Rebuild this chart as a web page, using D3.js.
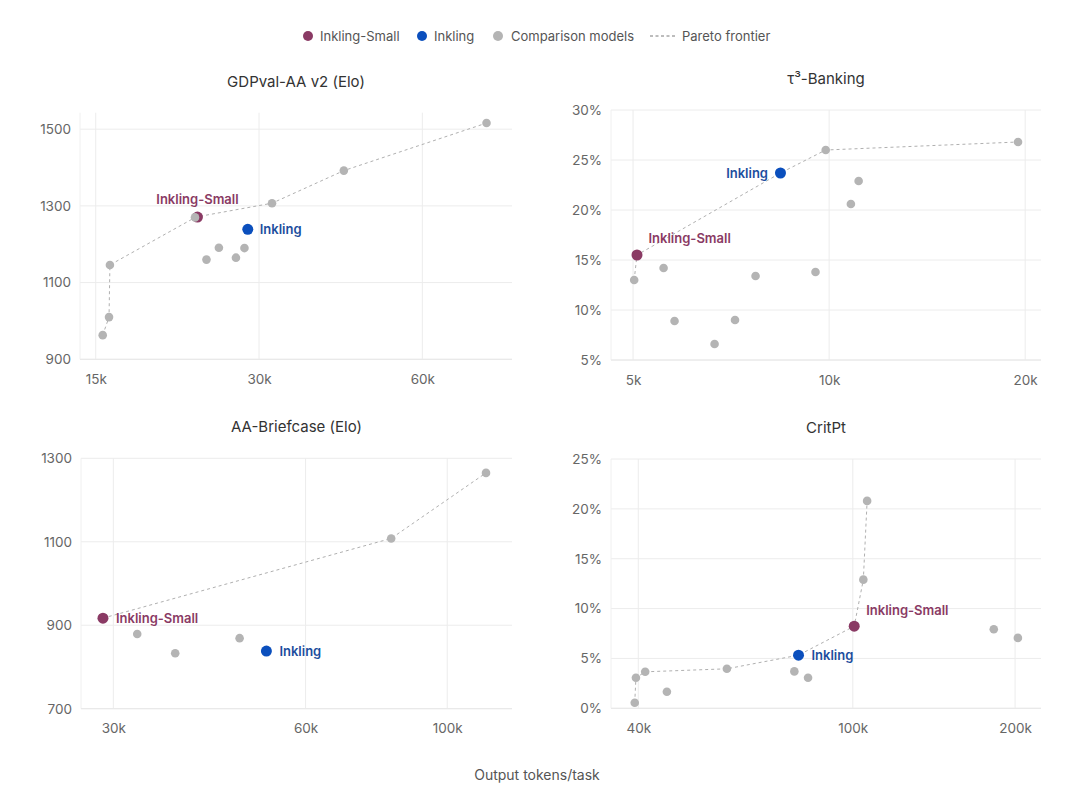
<!DOCTYPE html>
<html>
<head>
<meta charset="utf-8">
<script src="https://cdn.jsdelivr.net/npm/d3@7/dist/d3.min.js"></script>
<style>
  html, body { margin: 0; padding: 0; background: #fff; }
  svg { display: block; font-family: "Inter", "Liberation Sans", sans-serif; }
</style>
</head>
<body>
<svg id="chart" width="1080" height="789"></svg>
<script>
// ---------------- DATA ----------------
const legendLabels = ["Inkling-Small", "Inkling", "Comparison models", "Pareto frontier"];
const xAxisTitle = "Output tokens/task";

// Panel 1: GDPval-AA v2 (Elo)
const gdpTitle = "GDPval-AA v2 (Elo)";
const gdpXTicks = [15000, 30000, 60000];
const gdpXTickLabels = ["15k", "30k", "60k"];
const gdpYTicks = [900, 1100, 1300, 1500];
const gdpYTickLabels = ["900", "1100", "1300", "1500"];
const gdpCompX = [15450, 15870, 15930, 22860, 24000, 25300, 27200, 28200, 31700, 43000, 78800];
const gdpCompY = [963, 1010, 1146, 1270, 1160, 1191, 1165, 1190, 1307, 1392, 1516];
const gdpSmall = [23100, 1271];
const gdpInkling = [28600, 1239];
const gdpFrontierX = [15450, 15870, 15930, 22950, 31700, 43000, 78800];
const gdpFrontierY = [963, 1010, 1146, 1271, 1307, 1392, 1516];

// Panel 2: τ³-Banking
const bankTitle = "τ³-Banking";
const bankXTicks = [5000, 10000, 20000];
const bankXTickLabels = ["5k", "10k", "20k"];
const bankYTicks = [5, 10, 15, 20, 25, 30];
const bankYTickLabels = ["5%", "10%", "15%", "20%", "25%", "30%"];
const bankCompX = [5020, 5570, 5790, 6670, 7170, 7710, 9530, 9880, 10800, 11100, 19500];
const bankCompY = [13.0, 14.2, 8.9, 6.6, 9.0, 13.4, 13.8, 26.0, 20.6, 22.9, 26.8];
const bankSmall = [5070, 15.5];
const bankInkling = [8420, 23.7];
const bankFrontierX = [5020, 5070, 8420, 9880, 19500];
const bankFrontierY = [13.0, 15.5, 23.7, 26.0, 26.8];

// Panel 3: AA-Briefcase (Elo)
const briefTitle = "AA-Briefcase (Elo)";
const briefXTicks = [30000, 60000, 100000];
const briefXTickLabels = ["30k", "60k", "100k"];
const briefYTicks = [700, 900, 1100, 1300];
const briefYTickLabels = ["700", "900", "1100", "1300"];
const briefCompX = [32700, 37500, 47300, 81700, 115000];
const briefCompY = [879, 833, 869, 1108, 1265];
const briefSmall = [28900, 917];
const briefInkling = [52100, 838];
const briefFrontierX = [28900, 81700, 115000];
const briefFrontierY = [917, 1108, 1265];

// Panel 4: CritPt
const critTitle = "CritPt";
const critXTicks = [40000, 100000, 200000];
const critXTickLabels = ["40k", "100k", "200k"];
const critYTicks = [0, 5, 10, 15, 20, 25];
const critYTickLabels = ["0%", "5%", "10%", "15%", "20%", "25%"];
const critCompX = [39400, 39600, 41200, 45200, 58400, 77900, 82600, 104600, 106300, 182600, 202400];
const critCompY = [0.56, 3.06, 3.66, 1.66, 3.96, 3.7, 3.06, 12.9, 20.8, 7.93, 7.06];
const critSmall = [100600, 8.23];
const critInkling = [79300, 5.33];
const critFrontierX = [39400, 39600, 41200, 58400, 79300, 100600, 104600, 106300];
const critFrontierY = [0.56, 3.06, 3.66, 3.96, 5.33, 8.23, 12.9, 20.8];

// ---------------- STYLE / LAYOUT ----------------
const colSmall = "#8a3a64";
const colInk = "#0b4fbd";
const colComp = "#b4b4b4";
const colSmallText = "#8a3a64";
const colInkText = "#1c4e9e";
const gridCol = "#ececec";

const panels = [
  { title: gdpTitle, box: [80, 512, 112.7, 359.3], xDom: [14030, 87800], yDom: [900, 1543],
    xT: gdpXTicks, xL: gdpXTickLabels, yT: gdpYTicks, yL: gdpYTickLabels,
    cx: gdpCompX, cy: gdpCompY, small: gdpSmall, ink: gdpInkling, fx: gdpFrontierX, fy: gdpFrontierY,
    smallLab: { dx: 0, dy: -13, anchor: "middle" }, inkLab: { dx: 12, dy: 4.5, anchor: "start" } },
  { title: bankTitle, box: [611, 1041, 110, 360], xDom: [4625, 21150], yDom: [5, 30],
    xT: bankXTicks, xL: bankXTickLabels, yT: bankYTicks, yL: bankYTickLabels,
    cx: bankCompX, cy: bankCompY, small: bankSmall, ink: bankInkling, fx: bankFrontierX, fy: bankFrontierY,
    smallLab: { dx: 11.5, dy: -12, anchor: "start" }, inkLab: { dx: -12.5, dy: 4.5, anchor: "end" } },
  { title: briefTitle, box: [81, 512, 458.3, 708.7], xDom: [26700, 126300], yDom: [700, 1300],
    xT: briefXTicks, xL: briefXTickLabels, yT: briefYTicks, yL: briefYTickLabels,
    cx: briefCompX, cy: briefCompY, small: briefSmall, ink: briefInkling, fx: briefFrontierX, fy: briefFrontierY,
    smallLab: { dx: 13, dy: 4.5, anchor: "start" }, inkLab: { dx: 13, dy: 4.5, anchor: "start" } },
  { title: critTitle, box: [611, 1041, 459, 708.3], xDom: [35600, 223400], yDom: [0, 25],
    xT: critXTicks, xL: critXTickLabels, yT: critYTicks, yL: critYTickLabels,
    cx: critCompX, cy: critCompY, small: critSmall, ink: critInkling, fx: critFrontierX, fy: critFrontierY,
    smallLab: { dx: 12, dy: -11.5, anchor: "start" }, inkLab: { dx: 13, dy: 4.5, anchor: "start" } }
];

const svg = d3.select("#chart");

// ---------------- LEGEND ----------------
const legend = svg.append("g");
const legendPos = [308, 422, 498, 650];
const legendTextX = [320, 434, 511, 682];
const legendCols = [colSmall, colInk, colComp];
legendLabels.forEach((lab, i) => {
  if (i < 3) {
    legend.append("circle").attr("cx", legendPos[i]).attr("cy", 36).attr("r", 5).attr("fill", legendCols[i]);
  } else {
    legend.append("line").attr("x1", legendPos[i]).attr("x2", legendPos[i] + 26)
      .attr("y1", 36).attr("y2", 36).attr("stroke", "#7a7a7a").attr("stroke-width", 1)
      .attr("stroke-dasharray", "3,2.5");
  }
  legend.append("text").attr("x", legendTextX[i]).attr("y", 40.5)
    .attr("font-size", 13).attr("fill", "#555").text(lab);
});

// ---------------- PANELS ----------------
panels.forEach(p => {
  const [x0, x1, y0, y1] = p.box;
  const x = d3.scaleLog().domain(p.xDom).range([x0, x1]);
  const y = d3.scaleLinear().domain(p.yDom).range([y1, y0]);
  const g = svg.append("g");

  // title
  g.append("text").attr("x", (x0 + x1) / 2).attr("y", y0 - 26)
    .attr("text-anchor", "middle").attr("font-size", 15).attr("fill", "#333").text(p.title);

  // grid
  g.append("g").selectAll("line").data(p.yT).join("line")
    .attr("x1", x0).attr("x2", x1).attr("y1", d => y(d)).attr("y2", d => y(d))
    .attr("stroke", gridCol).attr("stroke-width", 1);
  g.append("g").selectAll("line").data(p.xT).join("line")
    .attr("x1", d => x(d)).attr("x2", d => x(d)).attr("y1", y0).attr("y2", y1)
    .attr("stroke", gridCol).attr("stroke-width", 1);
  // frame edges
  g.append("line").attr("x1", x0).attr("x2", x0).attr("y1", y0).attr("y2", y1).attr("stroke", "#f0f0f0");
  g.append("line").attr("x1", x0).attr("x2", x1).attr("y1", y1).attr("y2", y1).attr("stroke", "#e8e8e8");

  // axes
  const xAxis = d3.axisBottom(x).tickValues(p.xT).tickFormat((d, i) => p.xL[i]).tickSize(0).tickPadding(15);
  const gx = g.append("g").attr("transform", `translate(0,${y1})`).call(xAxis);
  const yAxis = d3.axisLeft(y).tickValues(p.yT).tickFormat((d, i) => p.yL[i]).tickSize(0).tickPadding(9);
  const gy = g.append("g").attr("transform", `translate(${x0},0)`).call(yAxis);
  [gx, gy].forEach(a => {
    a.select(".domain").remove();
    a.selectAll("text").attr("font-size", 13.5).attr("fill", "#666")
      .attr("font-family", "Inter, 'Liberation Sans', sans-serif");
  });

  // frontier
  const line = d3.line().x(d => x(d[0])).y(d => y(d[1]));
  g.append("path").datum(p.fx.map((v, i) => [v, p.fy[i]])).attr("d", line)
    .attr("fill", "none").attr("stroke", "#b0b0b0").attr("stroke-width", 1).attr("stroke-dasharray", "3,3");

  // highlighted points
  g.append("circle").attr("cx", x(p.small[0])).attr("cy", y(p.small[1])).attr("r", 5.5).attr("fill", colSmall);
  g.append("circle").attr("cx", x(p.ink[0])).attr("cy", y(p.ink[1])).attr("r", 5.5).attr("fill", colInk);

  // comparison points
  g.append("g").selectAll("circle").data(p.cx.map((v, i) => [v, p.cy[i]])).join("circle")
    .attr("cx", d => x(d[0])).attr("cy", d => y(d[1])).attr("r", 4.3).attr("fill", colComp);

  // labels
  g.append("text").attr("x", x(p.small[0]) + p.smallLab.dx).attr("y", y(p.small[1]) + p.smallLab.dy)
    .attr("text-anchor", p.smallLab.anchor).attr("font-size", 13).attr("font-weight", 600)
    .attr("fill", colSmallText).text(legendLabels[0]);
  g.append("text").attr("x", x(p.ink[0]) + p.inkLab.dx).attr("y", y(p.ink[1]) + p.inkLab.dy)
    .attr("text-anchor", p.inkLab.anchor).attr("font-size", 13).attr("font-weight", 600)
    .attr("fill", colInkText).text(legendLabels[1]);
});

// x axis title
svg.append("text").attr("x", 537).attr("y", 780).attr("text-anchor", "middle")
  .attr("font-size", 14).attr("fill", "#555").text(xAxisTitle);
</script>
</body>
</html>
